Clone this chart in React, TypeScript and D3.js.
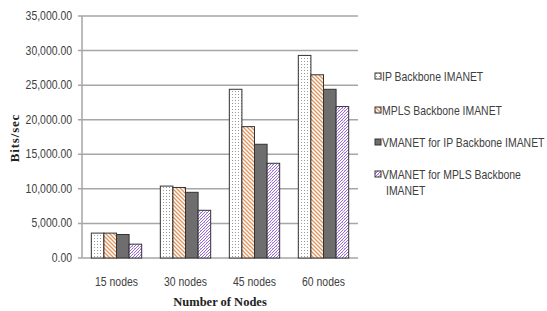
import React from "react";
import * as d3 from "d3";

const categories = ["15 nodes", "30 nodes", "45 nodes", "60 nodes"];
const seriesNames = [
  "IP Backbone IMANET",
  "MPLS Backbone IMANET",
  "VMANET for IP Backbone IMANET",
  "VMANET for MPLS Backbone IMANET",
];
const ipBackbone = [3600, 10400, 24400, 29300];
const mplsBackbone = [3600, 10200, 19000, 26500];
const vmanetIp = [3400, 9500, 16450, 24400];
const vmanetMpls = [2000, 6900, 13700, 21900];
const yTicks = [0, 5000, 10000, 15000, 20000, 25000, 30000, 35000];

const allSeries = [ipBackbone, mplsBackbone, vmanetIp, vmanetMpls];
const fills = ["url(#dots)", "url(#stripes)", "#6e6e6e", "url(#lattice)"];
const legendLines = [
  ["IP Backbone IMANET"],
  ["MPLS Backbone IMANET"],
  ["VMANET for IP Backbone IMANET"],
  ["VMANET for MPLS Backbone", "IMANET"],
];
const legendY = [77, 111, 143, 175];

// no Calibri here, so squeeze Liberation Sans horizontally
function Label({ x, y, anchor = "start", children }: { x: number; y: number; anchor?: string; children: React.ReactNode }) {
  return (
    <text
      transform={`translate(${x},${y}) scale(0.87,1)`}
      textAnchor={anchor}
      fontFamily="Liberation Sans"
      fontSize={12}
      fill="#404040"
    >
      {children}
    </text>
  );
}

export default function App() {
  const width = 547;
  const height = 311;
  const left = 82;
  const right = 358;
  const top = 16;
  const bottom = 258;

  const x = d3.scaleBand().domain(categories).range([left, right]).paddingInner(0.27).paddingOuter(0.135);
  const xs = d3.scaleBand().domain(seriesNames).range([0, x.bandwidth()]);
  const y = d3.scaleLinear().domain([0, 35000]).range([bottom, top]);
  const fmt = d3.format(",.2f");

  return (
    <svg width={width} height={height} style={{ position: "absolute", left: 0, top: 0 }}>
      <defs>
        <pattern id="dots" width="3" height="3" patternUnits="userSpaceOnUse">
          <rect width="3" height="3" fill="#fff" />
          <rect x="1" y="1" width="1" height="1" fill="#9a9a9a" />
        </pattern>
        <pattern id="stripes" width="4" height="4" patternUnits="userSpaceOnUse">
          <rect width="4" height="4" fill="#fff" />
          <path d="M-1,-1 L5,5 M3,-1 L5,1 M-1,3 L1,5" stroke="#e0955f" strokeWidth="1.3" />
        </pattern>
        <pattern id="lattice" width="6" height="6" patternUnits="userSpaceOnUse">
          <rect width="6" height="6" fill="#fff" />
          <path d="M0,6 L6,0 M0,3 L3,0 M3,6 L6,3" stroke="#9a6ad8" strokeWidth="1" />
          <path d="M0,0 L3,3" stroke="#c3a6ee" strokeWidth="0.8" />
        </pattern>
      </defs>
      <rect width={width} height={height} fill="#fff" />

      {yTicks.map((t) => (
        <g key={t}>
          <line x1={left - 4} x2={right} y1={y(t)} y2={y(t)} stroke="#a6a6a6" strokeWidth={1.5} />
          <Label x={72} y={y(t) + 4} anchor="end">
            {fmt(t)}
          </Label>
        </g>
      ))}
      <line x1={left} x2={left} y1={top} y2={bottom} stroke="#a6a6a6" strokeWidth={1.5} />

      {categories.map((c, i) => (
        <g key={c}>
          {allSeries.map((s, j) => (
            <rect
              key={j}
              x={(x(c) ?? 0) + (xs(seriesNames[j]) ?? 0)}
              y={y(s[i])}
              width={xs.bandwidth()}
              height={bottom - y(s[i])}
              fill={fills[j]}
              stroke="#333"
              strokeWidth={1}
            />
          ))}
          <Label x={(x(c) ?? 0) + x.bandwidth() / 2} y={286} anchor="middle">
            {c}
          </Label>
        </g>
      ))}

      <text
        transform="translate(19,138) rotate(-90)"
        textAnchor="middle"
        fontFamily="Liberation Serif"
        fontWeight="bold"
        fontSize={13}
        letterSpacing={0.8}
        fill="#222"
      >
        Bits/sec
      </text>
      <text x={220} y={306} textAnchor="middle" fontFamily="Liberation Serif" fontWeight="bold" fontSize={12.5} fill="#222">
        Number  of Nodes
      </text>

      {legendLines.map((lines, i) => (
        <g key={i}>
          <rect x={375} y={legendY[i] - 4} width={6} height={6} fill={fills[i]} stroke="#333" strokeWidth={1} />
          {lines.map((l, k) => (
            <Label key={k} x={k === 0 ? 382 : 386} y={legendY[i] + 4 + k * 16}>
              {l}
            </Label>
          ))}
        </g>
      ))}
    </svg>
  );
}
